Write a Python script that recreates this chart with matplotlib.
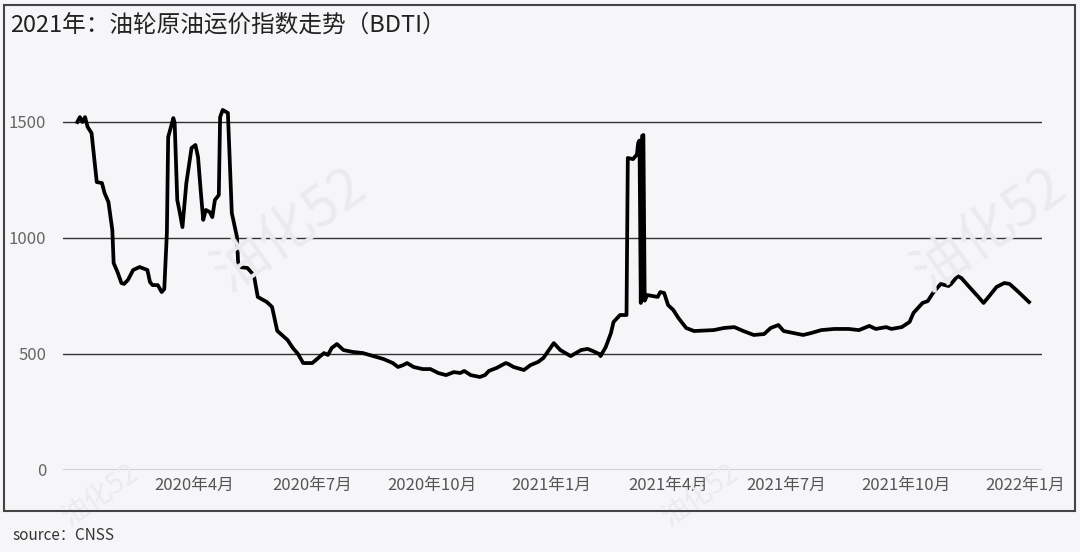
import pandas as pd
import matplotlib
matplotlib.use("Agg")
import matplotlib.pyplot as plt
from matplotlib.patches import Rectangle

plt.rcParams['font.family'] = ['Noto Sans CJK SC', 'DejaVu Sans']

# BDTI readings
dates = [
    "2020-01-02", "2020-01-04", "2020-01-06", "2020-01-08", "2020-01-10", "2020-01-13",
    "2020-01-17", "2020-01-21", "2020-01-23", "2020-01-26", "2020-01-29", "2020-01-30",
    "2020-02-02", "2020-02-05", "2020-02-07", "2020-02-10", "2020-02-14", "2020-02-19",
    "2020-02-25", "2020-02-27", "2020-02-29", "2020-03-04", "2020-03-07", "2020-03-09",
    "2020-03-11", "2020-03-12", "2020-03-16", "2020-03-17", "2020-03-19", "2020-03-21",
    "2020-03-23", "2020-03-26", "2020-03-30", "2020-04-02", "2020-04-04", "2020-04-06",
    "2020-04-08", "2020-04-10", "2020-04-13", "2020-04-15", "2020-04-17", "2020-04-20",
    "2020-04-21", "2020-04-23", "2020-04-27", "2020-04-30", "2020-05-04", "2020-05-05",
    "2020-05-12", "2020-05-17", "2020-05-20", "2020-05-27", "2020-05-31", "2020-06-04",
    "2020-06-12", "2020-06-16", "2020-06-20", "2020-06-24", "2020-07-01", "2020-07-10",
    "2020-07-13", "2020-07-16", "2020-07-20", "2020-07-25", "2020-08-01", "2020-08-09",
    "2020-08-17", "2020-08-25", "2020-09-01", "2020-09-05", "2020-09-09", "2020-09-12",
    "2020-09-17", "2020-09-24", "2020-09-30", "2020-10-06", "2020-10-12", "2020-10-18",
    "2020-10-23", "2020-10-26", "2020-10-31", "2020-11-07", "2020-11-11", "2020-11-14",
    "2020-11-20", "2020-11-27", "2020-11-29", "2020-12-03", "2020-12-11", "2020-12-16",
    "2020-12-22", "2020-12-26", "2021-01-03", "2021-01-08", "2021-01-16", "2021-01-24",
    "2021-01-29", "2021-02-02", "2021-02-07", "2021-02-08", "2021-02-12", "2021-02-16",
    "2021-02-18", "2021-02-23", "2021-02-28", "2021-03-01", "2021-03-05", "2021-03-08",
    "2021-03-09", "2021-03-10", "2021-03-11", "2021-03-12", "2021-03-13", "2021-03-14",
    "2021-03-16", "2021-03-24", "2021-03-26", "2021-03-29", "2021-04-01", "2021-04-05",
    "2021-04-09", "2021-04-15", "2021-04-21", "2021-05-06", "2021-05-14", "2021-05-22",
    "2021-05-29", "2021-06-06", "2021-06-14", "2021-06-19", "2021-06-25", "2021-06-29",
    "2021-07-07", "2021-07-14", "2021-07-20", "2021-07-28", "2021-08-07", "2021-08-18",
    "2021-08-26", "2021-09-03", "2021-09-08", "2021-09-16", "2021-09-20", "2021-09-28",
    "2021-10-04", "2021-10-07", "2021-10-14", "2021-10-18", "2021-10-22", "2021-10-28",
    "2021-11-03", "2021-11-05", "2021-11-10", "2021-11-13", "2021-11-19", "2021-11-26",
    "2021-11-30", "2021-12-05", "2021-12-10", "2021-12-16", "2021-12-20", "2021-12-26",
    "2022-01-04",
]
bdti = [
    1500, 1521, 1500, 1521, 1478, 1452,
    1241, 1237, 1194, 1155, 1034, 892,
    853, 806, 802, 819, 862, 875,
    862, 810, 797, 797, 767, 780,
    1021, 1435, 1517, 1496, 1164, 1108,
    1047, 1237, 1388, 1401, 1349, 1207,
    1078, 1121, 1112, 1090, 1164, 1185,
    1521, 1552, 1539, 1108, 1004, 875,
    871, 840, 746, 724, 703, 600,
    560, 526, 500, 461, 461, 504,
    496, 526, 543, 517, 509, 504,
    491, 478, 461, 444, 452, 461,
    444, 435, 435, 418, 409, 422,
    418, 427, 409, 401, 409, 427,
    440, 461, 457, 444, 431, 452,
    466, 483, 547, 517, 491, 517,
    522, 513, 500, 491, 530, 590,
    638, 668, 668, 1345, 1340, 1360,
    1410, 1420, 720, 1440, 1444, 730,
    754, 746, 767, 763, 711, 690,
    655, 612, 599, 603, 612, 616,
    599, 582, 586, 612, 625, 599,
    590, 582, 590, 603, 608, 608,
    603, 621, 608, 616, 608, 616,
    638, 677, 720, 728, 763, 802,
    793, 802, 836, 827, 789, 746,
    720, 754, 789, 806, 802, 772,
    724,
]

tick_dates = ["2020-04-01", "2020-07-01", "2020-10-01", "2021-01-01",
              "2021-04-01", "2021-07-01", "2021-10-01", "2022-01-01"]
tick_labels = ["2020年4月", "2020年7月", "2020年10月", "2021年1月",
               "2021年4月", "2021年7月", "2021年10月", "2022年1月"]
y_ticks = [0, 500, 1000, 1500]

bg = "#f6f6f8"
fig = plt.figure(figsize=(10.8, 5.52), dpi=100, facecolor=bg)
ax = fig.add_axes([63 / 1080, 82 / 552, 979 / 1080, 464 / 552])
ax.set_facecolor(bg)

# faint watermarks
for wx, wy, fs in [(290, 230, 40), (990, 230, 40), (100, 495, 20), (700, 495, 20)]:
    fig.text(wx / 1080, 1 - wy / 552, "油化52", fontsize=fs, color="#ebebee",
             rotation=35, ha="center", va="center", zorder=0)

x = pd.to_datetime(dates)
ax.plot(x, bdti, color="black", lw=2.7, solid_joinstyle="round", zorder=3)

ax.set_ylim(0, 2000)
ax.set_xlim(pd.Timestamp("2019-12-22"), pd.Timestamp("2022-01-14"))
ax.set_yticks(y_ticks)
ax.set_yticklabels([str(v) for v in y_ticks], fontsize=12, color="#666666")
ax.set_xticks(pd.to_datetime(tick_dates))
ax.set_xticklabels(tick_labels, fontsize=12, color="#555555")
ax.tick_params(axis="y", length=0, pad=12)
ax.tick_params(axis="x", length=0, pad=5)
ax.grid(axis="y", color="#333333", lw=1.0)
ax.set_axisbelow(True)
for s in ax.spines.values():
    s.set_visible(False)

fig.text(10 / 1080, 1 - 25 / 552, "2021年：油轮原油运价指数走势（BDTI）",
         fontsize=17, color="#222222", va="center", ha="left")
fig.text(12 / 1080, 1 - 535 / 552, "source：CNSS", fontsize=11,
         color="#333333", va="center", ha="left")

fig.patches.append(Rectangle((4 / 1080, 41 / 552), 1071 / 1080, 506 / 552,
                             transform=fig.transFigure, fill=False,
                             edgecolor="#444444", lw=1.5))

fig.savefig("out.png", dpi=100, facecolor=bg)
plt.close(fig)
